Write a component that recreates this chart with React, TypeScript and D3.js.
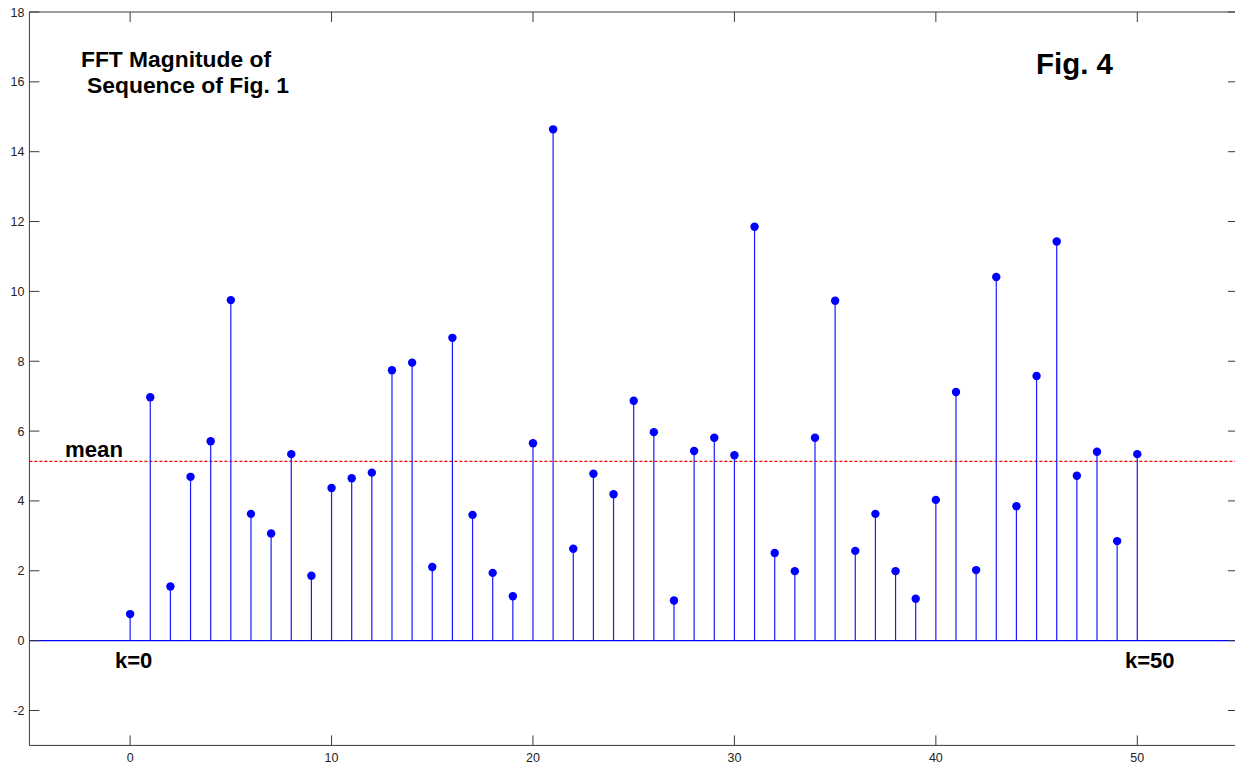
import React from "react";
import * as d3 from "d3";

const kValues: number[] = d3.range(0, 51);
const magnitudes: number[] = [
  0.76, 6.97, 1.55, 4.69, 5.71, 9.75, 3.63, 3.07, 5.34, 1.86,
  4.37, 4.65, 4.81, 7.74, 7.96, 2.11, 8.67, 3.6, 1.94, 1.27,
  5.65, 14.64, 2.63, 4.78, 4.19, 6.87, 5.97, 1.15, 5.43, 5.81,
  5.31, 11.85, 2.51, 1.99, 5.81, 9.73, 2.57, 3.63, 1.99, 1.2,
  4.03, 7.12, 2.02, 10.41, 3.85, 7.58, 11.43, 4.72, 5.41, 2.85,
  5.34,
];
const meanValue = 5.13;
const xTicks: number[] = [0, 10, 20, 30, 40, 50];
const yTicks: number[] = [-2, 0, 2, 4, 6, 8, 10, 12, 14, 16, 18];
const xDomain: [number, number] = [-5, 55];
const yDomain: [number, number] = [-3, 18];

const W = 1235;
const H = 765;
const left = 29.4;
const right = 1238;
const top = 12;
const bottom = 745.4;

export default function App() {
  const x = d3.scaleLinear().domain(xDomain).range([left, right]);
  const y = d3.scaleLinear().domain(yDomain).range([bottom, top]);
  const axisColor = "#3a3a3a";
  const tickLen = 10;
  const font = "Arial, 'Liberation Sans', Helvetica, sans-serif";

  return (
    <svg
      width={W}
      height={H}
      style={{ position: "absolute", left: 0, top: 0, background: "#fff" }}
      fontFamily={font}
    >
      <rect x={0} y={0} width={W} height={H} fill="#fff" />
      {/* mean line */}
      <line
        x1={x(xDomain[0])}
        x2={x(xDomain[1])}
        y1={y(meanValue)}
        y2={y(meanValue)}
        stroke="#ff0000"
        strokeWidth={1.2}
        strokeDasharray="3,2"
      />
      {/* baseline */}
      <line
        x1={x(xDomain[0])}
        x2={x(xDomain[1])}
        y1={y(0)}
        y2={y(0)}
        stroke="#0000ff"
        strokeWidth={1.2}
      />
      {/* stems */}
      {kValues.map((k, i) => (
        <line
          key={"s" + k}
          x1={x(k)}
          x2={x(k)}
          y1={y(0)}
          y2={y(magnitudes[i])}
          stroke="#1a1aff"
          strokeWidth={1.2}
        />
      ))}
      {kValues.map((k, i) => (
        <circle key={"c" + k} cx={x(k)} cy={y(magnitudes[i])} r={4.2} fill="#0000ff" />
      ))}
      {/* axes frame */}
      <line x1={left} x2={W} y1={top} y2={top} stroke={axisColor} strokeWidth={1} />
      <line x1={left} x2={W} y1={bottom} y2={bottom} stroke={axisColor} strokeWidth={1} />
      <line x1={left} x2={left} y1={top} y2={bottom} stroke={axisColor} strokeWidth={1} />
      <line x1={right} x2={right} y1={top} y2={bottom} stroke={axisColor} strokeWidth={1} />
      {xTicks.map((t) => (
        <g key={"xt" + t}>
          <line x1={x(t)} x2={x(t)} y1={bottom} y2={bottom - tickLen} stroke={axisColor} />
          <line x1={x(t)} x2={x(t)} y1={top} y2={top + tickLen} stroke={axisColor} />
          <text x={x(t)} y={bottom + 17} textAnchor="middle" fontSize={12.5} fill="#222">
            {t}
          </text>
        </g>
      ))}
      {yTicks.map((t) => (
        <g key={"yt" + t}>
          <line x1={left} x2={left + tickLen} y1={y(t)} y2={y(t)} stroke={axisColor} />
          <line x1={right} x2={right - tickLen} y1={y(t)} y2={y(t)} stroke={axisColor} />
          <text x={left - 5} y={y(t) + 4.5} textAnchor="end" fontSize={12.5} fill="#222">
            {t}
          </text>
        </g>
      ))}
      {/* annotations */}
      <text x={81} y={67} fontSize={21.5} fontWeight="bold" fill="#000" textLength={190} lengthAdjust="spacingAndGlyphs">
        FFT Magnitude of
      </text>
      <text x={87} y={93} fontSize={21.5} fontWeight="bold" fill="#000" textLength={202} lengthAdjust="spacingAndGlyphs">
        Sequence of Fig. 1
      </text>
      <text x={1036} y={74} fontSize={29} fontWeight="bold" fill="#000" textLength={77} lengthAdjust="spacingAndGlyphs">
        Fig. 4
      </text>
      <text x={65} y={457} fontSize={21.5} fontWeight="bold" fill="#000" textLength={58} lengthAdjust="spacingAndGlyphs">
        mean
      </text>
      <text x={115} y={668} fontSize={22} fontWeight="bold" fill="#000">
        k=0
      </text>
      <text x={1125} y={668} fontSize={22} fontWeight="bold" fill="#000">
        k=50
      </text>
    </svg>
  );
}
